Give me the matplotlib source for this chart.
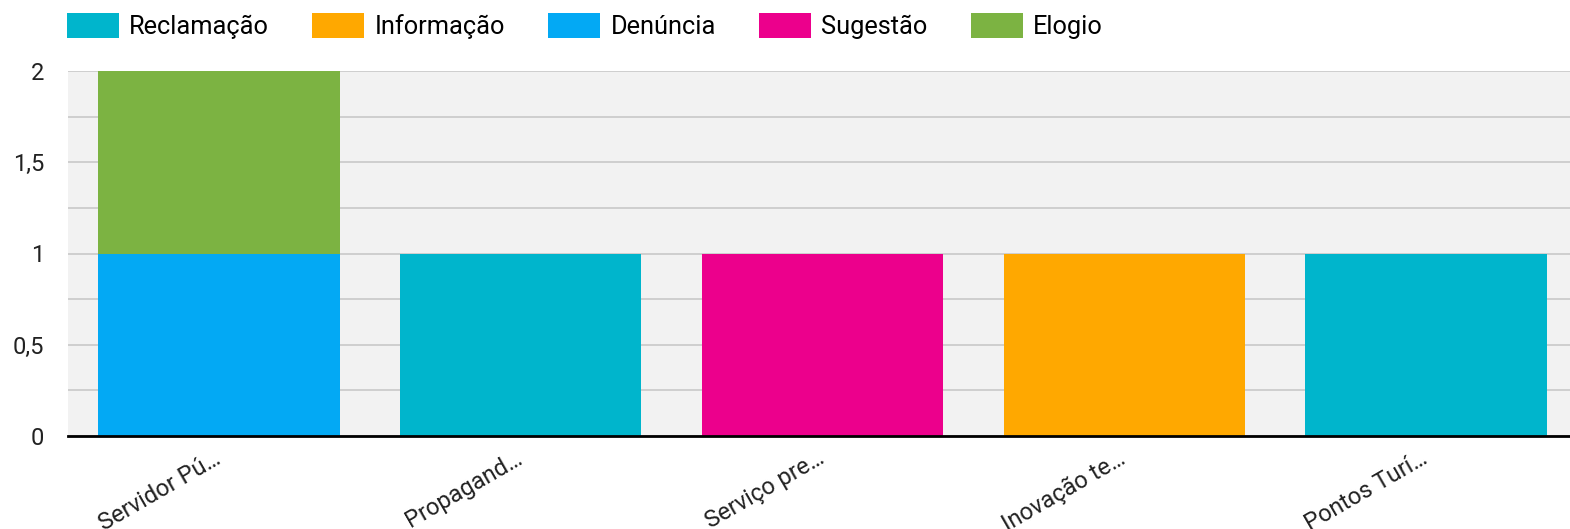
import numpy as np
import matplotlib.pyplot as plt
import matplotlib.transforms as mtransforms
from matplotlib.patches import Patch

plt.rcParams['font.family'] = ['Roboto', 'DejaVu Sans']

categories = ['Servidor Pú…', 'Propagand…', 'Serviço pre…', 'Inovação te…', 'Pontos Turí…']
series = ['Reclamação', 'Informação', 'Denúncia', 'Sugestão', 'Elogio']
colors = ['#00b5cc', '#ffa800', '#03a9f4', '#ec008c', '#7cb342']

reclamacao = [0, 1, 0, 0, 1]
informacao = [0, 0, 0, 1, 0]
denuncia = [1, 0, 0, 0, 0]
sugestao = [0, 0, 1, 0, 0]
elogio = [1, 0, 0, 0, 0]
values = [reclamacao, informacao, denuncia, sugestao, elogio]

W, H = 1570, 529
fig = plt.figure(figsize=(W / 100, H / 100), dpi=100)
# plot area runs a little past the right edge, as in the original
ax = fig.add_axes([68 / W, 1 - 436 / H, 1509 / W, 365 / H])
ax.set_facecolor('#f2f2f2')

x = np.arange(len(categories))
bottom = np.zeros(len(categories))
for name, vals, col in zip(series, values, colors):
    vals = np.array(vals, dtype=float)
    ax.bar(x, vals, bottom=bottom, width=0.8, color=col, label=name, zorder=2)
    bottom += vals

ax.set_xlim(-0.5, len(categories) - 0.5)
ax.set_ylim(0, 2)
ax.set_yticks([0, 0.5, 1, 1.5, 2])
ax.set_yticklabels(['0', '0,5', '1', '1,5', '2'], fontsize=17, color='#222222')
ax.set_yticks(np.arange(0, 2.01, 0.25), minor=True)
ax.grid(axis='y', which='both', color='#cccccc', linewidth=1.3, zorder=1)
ax.tick_params(axis='both', which='both', length=0)
ax.tick_params(axis='y', pad=17)

for s in ['top', 'right', 'left']:
    ax.spines[s].set_visible(False)
ax.spines['bottom'].set_color('black')
ax.spines['bottom'].set_linewidth(2)
ax.spines['bottom'].set_zorder(3)

ax.set_xticks(x)
ax.set_xticklabels(categories, rotation=30, ha='right', va='baseline',
                   rotation_mode='anchor', fontsize=17, color='#222222')
ax.tick_params(axis='x', pad=19)
offset = mtransforms.ScaledTranslation(0.03, 0, fig.dpi_scale_trans)
for lbl in ax.get_xticklabels():
    lbl.set_transform(lbl.get_transform() + offset)

handles = [Patch(facecolor=c, label=n) for n, c in zip(series, colors)]
fig.legend(handles=handles, loc='upper left', bbox_to_anchor=(67 / W, 1 - 13 / H),
           ncol=5, frameon=False, fontsize=18.3, handlelength=2.05, handleheight=1.15,
           handletextpad=0.4, columnspacing=1.7, borderaxespad=0, borderpad=0)

fig.savefig('out.png', dpi=100)
